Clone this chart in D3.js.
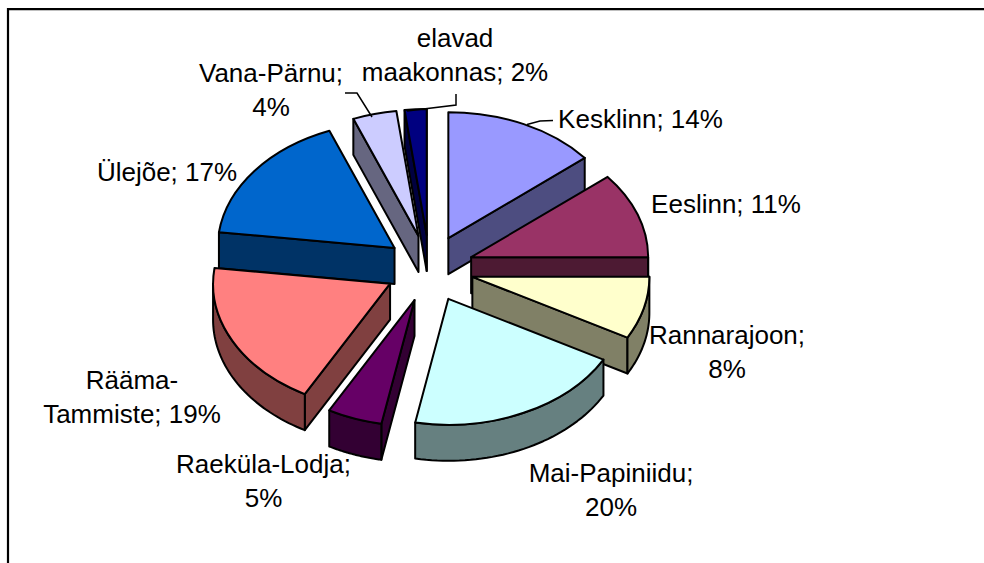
<!DOCTYPE html>
<html>
<head>
<meta charset="utf-8">
<script src="https://cdn.jsdelivr.net/npm/d3@7"></script>
<style>
html,body{margin:0;padding:0;background:#fff;overflow:hidden}
svg{display:block}
text{font-family:"Liberation Sans",Arial,sans-serif;font-size:26px;fill:#000}
</style>
</head>
<body>
<svg id="c" width="984" height="563"></svg>
<script>
const categories = ["Kesklinn","Eeslinn","Rannarajoon","Mai-Papiniidu","Raeküla-Lodja","Rääma-Tammiste","Ülejõe","Vana-Pärnu","elavad maakonnas"];
const values = [14,11,8,20,5,19,17,4,2];
const labelLines = [["Kesklinn; 14%"],["Eeslinn; 11%"],["Rannarajoon;","8%"],["Mai-Papiniidu;","20%"],["Raeküla-Lodja;","5%"],["Rääma-","Tammiste; 19%"],["Ülejõe; 17%"],["Vana-Pärnu;","4%"],["elavad","maakonnas; 2%"]];
const topColors = ["#9999FF","#993366","#FFFFCC","#CCFFFF","#660066","#FF8080","#0066CC","#CCCCFF","#000080"];
const sideColors = ["#4D4D80","#4D1A33","#808066","#668080","#330033","#804040","#003366","#666680","#000040"];

// layout, kept apart from the data
const cx = 429.5, cy = 268.5, rx = 177, ry = 126, depth = 36, explodeX = 0.25, explodeY = 0.266;
const labelPos = [[640.5,128],[726,212.5],[727,344],[611,482],[263.5,473],[132,389],[167,181],[271,82],[455,46.5]];
const drawOrder = [8,7,6,0,1,2,5,4,3];
const lineH = 34;
const leaders = [
  [[527,124.5],[540,121],[553,120.5]],
  [[372,117],[357,93],[345,93]],
  [[407,111],[456,105],[456,94]]
];

const svg = d3.select("#c");
svg.append("path")
  .attr("d", "M8,563V9.2H984")
  .attr("fill","none").attr("stroke","#000").attr("stroke-width",2.2);

const pie = d3.pie().sort(null).value(d => d)(values);
const arcGen = d3.arc().innerRadius(0).outerRadius(1);
const pt = (ox,oy,a,dz=0) => [ox+rx*Math.sin(a), oy-ry*Math.cos(a)+dz];
const line = d3.line();
const g = svg.append("g");
const sw = 2;

drawOrder.forEach(i => {
  const s = pie[i], a0 = s.startAngle, a1 = s.endAngle, mid = (a0+a1)/2;
  const ox = cx + explodeX*rx*Math.sin(mid), oy = cy - explodeY*ry*Math.cos(mid);
  const st = sel => sel.attr("fill",sideColors[i]).attr("stroke","#000").attr("stroke-width",sw).attr("stroke-linejoin","round");
  const walls = [];
  if (Math.sin(a1) > 0) walls.push([[ox,oy],pt(ox,oy,a1),pt(ox,oy,a1,depth),[ox,oy+depth]]);
  if (Math.sin(a0) < -1e-6) walls.push([[ox,oy],pt(ox,oy,a0),pt(ox,oy,a0,depth),[ox,oy+depth]]);
  walls.forEach(w => g.append("path").attr("d",line(w)+"Z").call(st));
  const from = Math.max(a0,Math.PI/2), to = Math.min(a1,Math.PI*1.5);
  if (to > from) {
    const as = d3.range(0,41).map(k => from+(to-from)*k/40);
    const top = as.map(a => pt(ox,oy,a));
    const bot = as.map(a => pt(ox,oy,a,depth)).reverse();
    g.append("path").attr("d",line(top.concat(bot))+"Z").call(st);
  }
  g.append("path")
    .attr("d",arcGen({startAngle:a0,endAngle:a1}))
    .attr("transform",`translate(${ox},${oy}) scale(${rx},${ry})`)
    .attr("vector-effect","non-scaling-stroke")
    .attr("fill",topColors[i]).attr("stroke","#000").attr("stroke-width",sw).attr("stroke-linejoin","round");
});

leaders.forEach(l => svg.append("path").attr("d",line(l)).attr("fill","none").attr("stroke","#000").attr("stroke-width",1.5));

labelLines.forEach((ls,i) => {
  const t = svg.append("text").attr("text-anchor","middle");
  ls.forEach((txt,k) => t.append("tspan").attr("x",labelPos[i][0]).attr("y",labelPos[i][1]+k*lineH).text(txt));
});
</script>
</body>
</html>
